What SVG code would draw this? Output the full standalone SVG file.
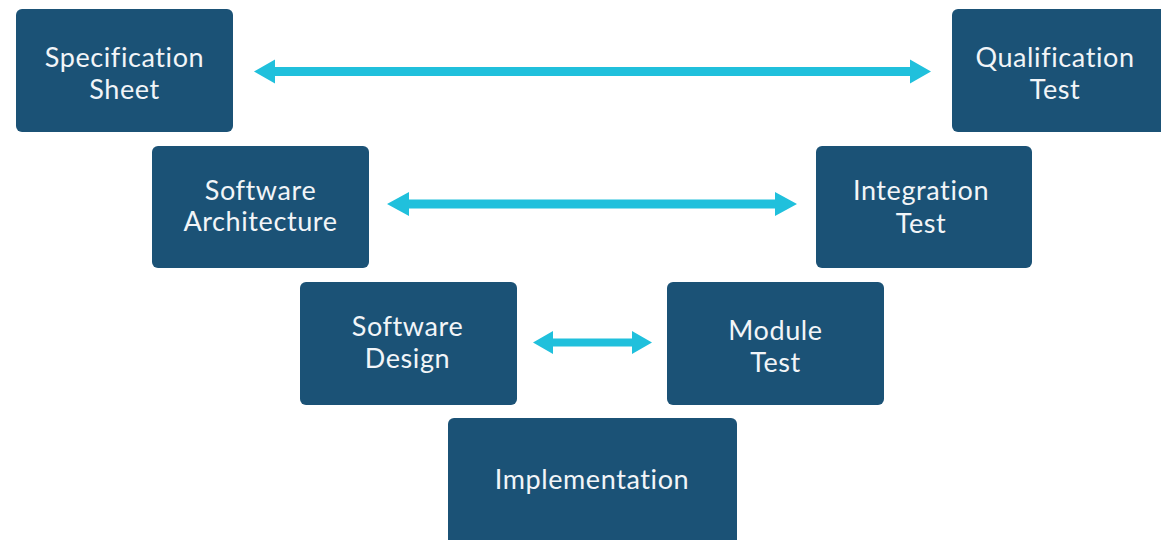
<svg xmlns="http://www.w3.org/2000/svg" width="1161" height="540" viewBox="0 0 1161 540">
<style>
.box{fill:#1b5276;}
.lbl{font-family:Lato,"Noto Sans",sans-serif;font-size:27px;letter-spacing:0.6px;fill:#f2f5f8;text-anchor:middle;}
.arr{fill:#20c0dc;}
</style>
<rect width="1161" height="540" fill="#ffffff"/>
<g id="connectors">
<path class="arr" d="M254 71.5 L275 59.5 L275 67 L910 67 L910 59.5 L931 71.5 L910 83.5 L910 76 L275 76 L275 83.5 Z"/>
<path class="arr" d="M387 204 L409 192 L409 199.5 L775 199.5 L775 192 L797 204 L775 216 L775 208.5 L409 208.5 L409 216 Z"/>
<path class="arr" d="M533 342.5 L553 331 L553 338.5 L632 338.5 L632 331 L652 342.5 L632 354 L632 346.5 L553 346.5 L553 354 Z"/>
</g>
<g id="spec">
<rect class="box" x="16" y="9" width="217" height="123" rx="6"/>
<text class="lbl" x="124.5" y="67">Specification</text>
<text class="lbl" x="124.5" y="99">Sheet</text>
</g>
<g id="qual">
<rect class="box" x="952" y="9" width="217" height="123" rx="6"/>
<text class="lbl" x="1055" y="67">Qualification</text>
<text class="lbl" x="1055" y="99">Test</text>
</g>
<g id="arch">
<rect class="box" x="152" y="146" width="217" height="122" rx="6"/>
<text class="lbl" x="260.5" y="199.5">Software</text>
<text class="lbl" x="260.5" y="231">Architecture</text>
</g>
<g id="integ">
<rect class="box" x="816" y="146" width="216" height="122" rx="6"/>
<text class="lbl" x="921" y="200">Integration</text>
<text class="lbl" x="921" y="232.5">Test</text>
</g>
<g id="design">
<rect class="box" x="300" y="282" width="217" height="123" rx="6"/>
<text class="lbl" x="407.5" y="336">Software</text>
<text class="lbl" x="407.5" y="368">Design</text>
</g>
<g id="module">
<rect class="box" x="667" y="282" width="217" height="123" rx="6"/>
<text class="lbl" x="775.5" y="340">Module</text>
<text class="lbl" x="775.5" y="371.5">Test</text>
</g>
<g id="impl">
<rect class="box" x="448" y="418" width="289" height="130" rx="6"/>
<text class="lbl" x="592" y="489">Implementation</text>
</g>
</svg>
